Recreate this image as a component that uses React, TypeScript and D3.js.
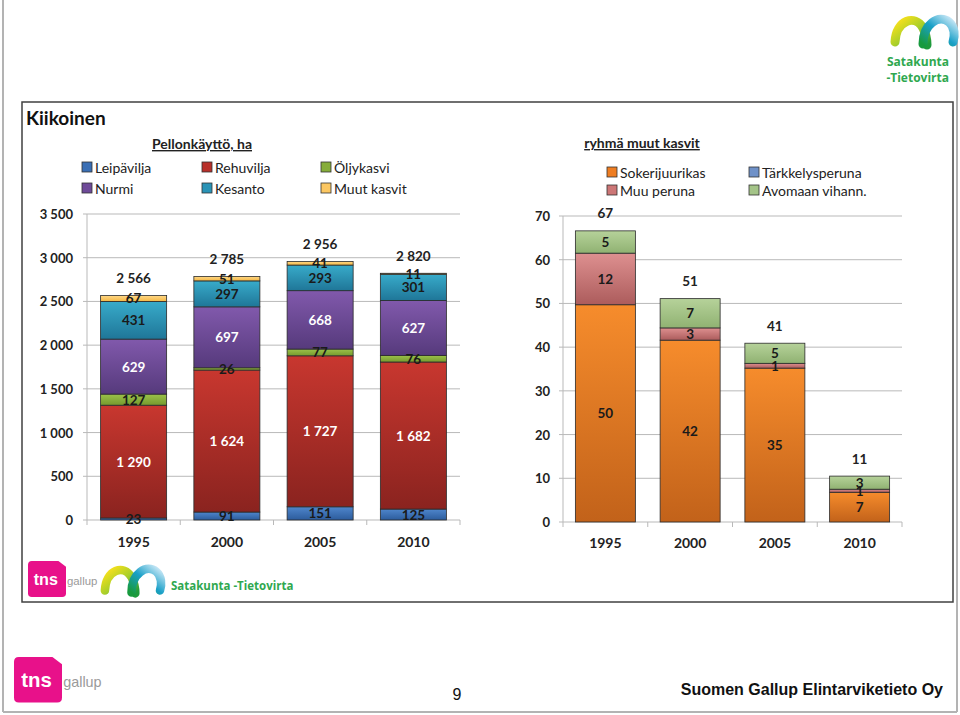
import React, { useEffect } from 'react';
import * as d3 from 'd3';

// ---------- data ----------
const years = ['1995', '2000', '2005', '2010'];

const leftKeys = ['Leipävilja', 'Rehuvilja', 'Öljykasvi', 'Nurmi', 'Kesanto', 'Muut kasvit'];
const leipavilja = [23, 91, 151, 125];
const rehuvilja = [1290, 1624, 1727, 1682];
const oljykasvi = [127, 26, 77, 76];
const nurmi = [629, 697, 668, 627];
const kesanto = [431, 297, 293, 301];
const muutKasvit = [67, 51, 41, 11];
const leftTotals = [2566, 2785, 2956, 2820];
const leftTicks = [0, 500, 1000, 1500, 2000, 2500, 3000, 3500];

const rightKeys = ['Sokerijuurikas', 'Tärkkelysperuna', 'Muu peruna', 'Avomaan vihann.'];
const sokerijuurikas = [49.7, 41.6, 35.2, 6.8];
const tarkkelysperuna = [0, 0, 0, 0];
const muuPeruna = [11.8, 2.8, 1.1, 0.7];
const avomaanVihann = [5.1, 6.7, 4.6, 3.0];
const rightTotals = [67, 51, 41, 11];
const rightTicks = [0, 10, 20, 30, 40, 50, 60, 70];

// ---------- styles ----------
const leftColors: Record<string, [string, string, string]> = {
  'Leipävilja': ['#4f86cc', '#2c5c9c', '#3a6fb5'],
  'Rehuvilja': ['#c8372f', '#8a231f', '#b8302a'],
  'Öljykasvi': ['#9cc24a', '#759a2e', '#86ad3a'],
  'Nurmi': ['#8159ac', '#563a7c', '#6e4a98'],
  'Kesanto': ['#38abca', '#1f7698', '#2a93b6'],
  'Muut kasvit': ['#ffd886', '#f4b745', '#fcc762'],
};
const rightColors: Record<string, [string, string, string]> = {
  'Sokerijuurikas': ['#f68c2c', '#c2621a', '#ee7d22'],
  'Tärkkelysperuna': ['#86a6d6', '#5878b0', '#6f91c8'],
  'Muu peruna': ['#de9090', '#ac5c5c', '#cc7676'],
  'Avomaan vihann.': ['#b6d29a', '#90b272', '#a4c488'],
};
const leftLabelColor: Record<string, string> = {
  'Leipävilja': '#1a1a1a', 'Rehuvilja': '#ffffff', 'Öljykasvi': '#1a1a1a',
  'Nurmi': '#ffffff', 'Kesanto': '#1a1a1a', 'Muut kasvit': '#1a1a1a',
};

const FONT = "Lato, 'Open Sans', sans-serif";
const fmt = d3.formatLocale({ thousands: '\u00a0', grouping: [3], decimal: ',', currency: ['', ''] }).format(',d');
const gid = (k: string) => 'g' + k.replace(/[^A-Za-z]/g, '');

function SataLogo({ x, y, s }: { x: number; y: number; s: number }) {
  return (
    <g transform={`translate(${x},${y}) scale(${s})`}>
      <path d="M2,30 C3,8 22,2 30,16 C33,22 34,28 34,33" fill="none" stroke="url(#swY)" strokeWidth={9} strokeLinecap="round" />
      <path d="M30,32 C30,12 46,2 56,10 C62,15 62,24 60,30" fill="none" stroke="url(#swB)" strokeWidth={9} strokeLinecap="round" />
    </g>
  );
}

function TnsLogo({ x, y, s }: { x: number; y: number; s: number }) {
  return (
    <g transform={`translate(${x},${y}) scale(${s})`}>
      <path d="M4,0 L32,0 L40,6 L40,34 Q40,38 36,38 L4,38 Q0,38 0,34 L0,4 Q0,0 4,0 Z" fill="#e8118a" />
      <text x={6} y={25} fontFamily="'Liberation Sans', Arial, sans-serif" fontWeight="bold" fontSize={17} fill="#ffffff">tns</text>
      <text x={41} y={25} fontFamily="'Liberation Sans', Arial, sans-serif" fontSize={12} fill="#9a9a9a">gallup</text>
    </g>
  );
}

export default function App() {
  useEffect(() => {
    document.body.style.margin = '0';
  }, []);

  // ----- left chart -----
  const lx = d3.scaleBand<string>().domain(years).range([87, 460]).paddingInner(0.292).paddingOuter(0.146);
  const ly = d3.scaleLinear().domain([0, 3500]).range([520, 214]);
  const leftRows = years.map((yr, i) => ({
    year: yr,
    'Leipävilja': leipavilja[i], 'Rehuvilja': rehuvilja[i], 'Öljykasvi': oljykasvi[i],
    'Nurmi': nurmi[i], 'Kesanto': kesanto[i], 'Muut kasvit': muutKasvit[i],
  }));
  const leftStack = d3.stack<any>().keys(leftKeys)(leftRows);

  // ----- right chart -----
  const rx = d3.scaleBand<string>().domain(years).range([563, 902]).paddingInner(0.292).paddingOuter(0.146);
  const ry = d3.scaleLinear().domain([0, 70]).range([522, 216]);
  const rightRows = years.map((yr, i) => ({
    year: yr,
    'Sokerijuurikas': sokerijuurikas[i], 'Tärkkelysperuna': tarkkelysperuna[i],
    'Muu peruna': muuPeruna[i], 'Avomaan vihann.': avomaanVihann[i],
  }));
  const rightStack = d3.stack<any>().keys(rightKeys)(rightRows);

  const gridColor = '#b9b9b9';
  const txt = '#222222';

  return (
    <svg width={960} height={715} style={{ position: 'absolute', left: 0, top: 0, display: 'block', background: '#fff' }} fontFamily={FONT}>
      <defs>
        {Object.entries({ ...leftColors, ...rightColors }).map(([k, c]) => (
          <linearGradient key={k} id={gid(k)} x1="0" y1="0" x2="0" y2="1">
            <stop offset="0" stopColor={c[0]} />
            <stop offset="1" stopColor={c[1]} />
          </linearGradient>
        ))}
        <linearGradient id="swY" x1="0" y1="0" x2="1" y2="1">
          <stop offset="0" stopColor="#ffe21a" />
          <stop offset="0.5" stopColor="#a9cf2a" />
          <stop offset="1" stopColor="#1e9a3c" />
        </linearGradient>
        <linearGradient id="swB" x1="0" y1="1" x2="1" y2="0">
          <stop offset="0" stopColor="#179a3e" />
          <stop offset="0.5" stopColor="#1aa0c8" />
          <stop offset="1" stopColor="#cfeaf8" />
        </linearGradient>
      </defs>

      {/* page frame */}
      <line x1={3} y1={0} x2={3} y2={712} stroke="#b3b3b3" strokeWidth={2} />
      <line x1={3} y1={712} x2={957} y2={712} stroke="#b3b3b3" strokeWidth={2} />
      <line x1={957} y1={0} x2={957} y2={712} stroke="#b3b3b3" strokeWidth={2} />

      {/* top-right logo */}
      <SataLogo x={893} y={12} s={1.0} />
      <text x={949} y={66} textAnchor="end" fontFamily="'Open Sans', sans-serif" fontWeight="bold" fontSize={12} fill="#2fa84f">Satakunta</text>
      <text x={949} y={82} textAnchor="end" fontFamily="'Open Sans', sans-serif" fontWeight="bold" fontSize={12} fill="#2fa84f">-Tietovirta</text>

      {/* chart box */}
      <rect x={22} y={102} width={931} height={500} fill="#fff" stroke="#404040" strokeWidth={1.5} />
      <text x={26} y={125} fontSize={19} fontWeight="bold" fill="#111">Kiikoinen</text>

      {/* ---------- LEFT CHART ---------- */}
      <text x={202} y={149} textAnchor="middle" fontSize={14} fontWeight="bold" fill={txt} textDecoration="underline">Pellonkäyttö, ha</text>
      {leftKeys.map((k, i) => {
        const col = i % 3, row = Math.floor(i / 3);
        const sx = [82, 202, 321][col];
        const sy = [167, 188][row];
        return (
          <g key={k}>
            <rect x={sx} y={sy - 5} width={10} height={10} fill={leftColors[k][2]} stroke="#333" strokeWidth={0.8} />
            <text x={sx + 13} y={sy} dominantBaseline="central" fontSize={14} fill={txt}>{k}</text>
          </g>
        );
      })}
      {leftTicks.map(t => (
        <g key={t}>
          <line x1={83} x2={460} y1={ly(t)} y2={ly(t)} stroke={gridColor} strokeWidth={1} />
          <text x={73} y={ly(t)} textAnchor="end" dominantBaseline="central" fontSize={13} fontWeight="bold" fill={txt}>{fmt(t)}</text>
        </g>
      ))}
      <line x1={87} x2={87} y1={214} y2={520} stroke={gridColor} strokeWidth={1} />
      {d3.range(5).map(i => {
        const xx = 87 + i * lx.step();
        return <line key={i} x1={xx} x2={xx} y1={520} y2={525} stroke={gridColor} strokeWidth={1} />;
      })}
      {leftStack.map(s => (
        <g key={s.key}>
          {s.map((d, i) => (
            <rect key={i} x={lx(years[i])} y={ly(d[1])} width={lx.bandwidth()} height={Math.max(0, ly(d[0]) - ly(d[1]))}
              fill={`url(#${gid(s.key)})`} stroke="#2a2a2a" strokeWidth={0.8} />
          ))}
        </g>
      ))}
      {leftStack.map(s => (
        <g key={s.key + 'l'}>
          {s.map((d, i) => (
            <text key={i} x={lx(years[i])! + lx.bandwidth() / 2} y={ly((d[0] + d[1]) / 2)} textAnchor="middle" dominantBaseline="central"
              fontSize={13.5} fontWeight="bold" fill={leftLabelColor[s.key]}>{fmt(d[1] - d[0])}</text>
          ))}
        </g>
      ))}
      {years.map((yr, i) => {
        const top = leftStack[leftStack.length - 1][i][1];
        return (
          <g key={yr}>
            <text x={lx(yr)! + lx.bandwidth() / 2} y={ly(top) - 17.5} textAnchor="middle" dominantBaseline="central" fontSize={13.5} fontWeight="bold" fill={txt}>{fmt(leftTotals[i])}</text>
            <text x={lx(yr)! + lx.bandwidth() / 2} y={541} textAnchor="middle" dominantBaseline="central" fontSize={14} fontWeight="bold" fill={txt}>{yr}</text>
          </g>
        );
      })}

      {/* ---------- RIGHT CHART ---------- */}
      <text x={642} y={148} textAnchor="middle" fontSize={14} fontWeight="bold" fill={txt} textDecoration="underline">ryhmä muut kasvit</text>
      {rightKeys.map((k, i) => {
        const col = i % 2, row = Math.floor(i / 2);
        const sx = [607, 749][col];
        const sy = [172, 190][row];
        return (
          <g key={k}>
            <rect x={sx} y={sy - 5} width={10} height={10} fill={rightColors[k][2]} stroke="#333" strokeWidth={0.8} />
            <text x={sx + 13} y={sy} dominantBaseline="central" fontSize={14} fill={txt}>{k}</text>
          </g>
        );
      })}
      {rightTicks.map(t => (
        <g key={t}>
          <line x1={559} x2={902} y1={ry(t)} y2={ry(t)} stroke={gridColor} strokeWidth={1} />
          <text x={550} y={ry(t)} textAnchor="end" dominantBaseline="central" fontSize={13} fontWeight="bold" fill={txt}>{t}</text>
        </g>
      ))}
      <line x1={563} x2={563} y1={216} y2={522} stroke={gridColor} strokeWidth={1} />
      {d3.range(5).map(i => {
        const xx = 563 + i * rx.step();
        return <line key={i} x1={xx} x2={xx} y1={522} y2={527} stroke={gridColor} strokeWidth={1} />;
      })}
      {rightStack.map(s => (
        <g key={s.key}>
          {s.map((d, i) => (d[1] - d[0] > 0 ? (
            <rect key={i} x={rx(years[i])} y={ry(d[1])} width={rx.bandwidth()} height={ry(d[0]) - ry(d[1])}
              fill={`url(#${gid(s.key)})`} stroke="#2a2a2a" strokeWidth={0.8} />
          ) : null))}
        </g>
      ))}
      {rightStack.map(s => (
        <g key={s.key + 'l'}>
          {s.map((d, i) => (d[1] - d[0] > 0 ? (
            <text key={i} x={rx(years[i])! + rx.bandwidth() / 2} y={ry((d[0] + d[1]) / 2)} textAnchor="middle" dominantBaseline="central"
              fontSize={13.5} fontWeight="bold" fill="#1a1a1a">{Math.round(d[1] - d[0])}</text>
          ) : null))}
        </g>
      ))}
      {years.map((yr, i) => {
        const top = rightStack[rightStack.length - 1][i][1];
        return (
          <g key={yr}>
            <text x={rx(yr)! + rx.bandwidth() / 2} y={ry(top) - 17.5} textAnchor="middle" dominantBaseline="central" fontSize={13.5} fontWeight="bold" fill={txt}>{rightTotals[i]}</text>
            <text x={rx(yr)! + rx.bandwidth() / 2} y={542} textAnchor="middle" dominantBaseline="central" fontSize={14} fontWeight="bold" fill={txt}>{yr}</text>
          </g>
        );
      })}

      {/* bottom logos in box */}
      <TnsLogo x={28} y={561} s={0.95} />
      <SataLogo x={103} y={562} s={0.95} />
      <text x={171} y={590} fontFamily="'Open Sans', sans-serif" fontWeight="bold" fontSize={11.5} fill="#2fa84f">Satakunta -Tietovirta</text>

      {/* footer */}
      <TnsLogo x={14} y={657} s={1.2} />
      <text x={457} y={700} textAnchor="middle" fontFamily="'Liberation Sans', Arial, sans-serif" fontSize={16} fill="#111">9</text>
      <text x={943} y={695} textAnchor="end" fontFamily="'Liberation Sans', Arial, sans-serif" fontWeight="bold" fontSize={16} fill="#111">Suomen Gallup Elintarviketieto Oy</text>
    </svg>
  );
}
